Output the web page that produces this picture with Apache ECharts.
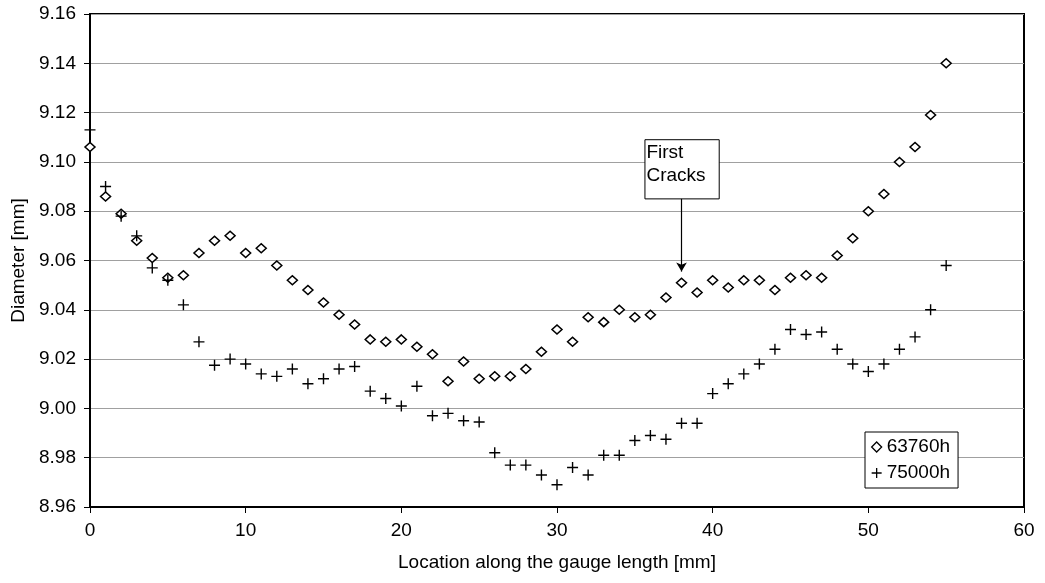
<!DOCTYPE html>
<html>
<head>
<meta charset="utf-8">
<script src="https://cdn.jsdelivr.net/npm/echarts@6/dist/echarts.min.js"></script>
<style>
  html, body { margin: 0; padding: 0; background: #fff; }
  #chart { width: 1045px; height: 583px; }
</style>
</head>
<body>
<div id="chart"></div>
<script>
// Measurement positions along the gauge length [mm]
const locations = [0, 1, 2, 3, 4, 5, 6, 7, 8, 9, 10, 11, 12, 13, 14, 15, 16, 17, 18, 19,
  20, 21, 22, 23, 24, 25, 26, 27, 28, 29, 30, 31, 32, 33, 34, 35, 36, 37, 38, 39,
  40, 41, 42, 43, 44, 45, 46, 47, 48, 49, 50, 51, 52, 53, 54, 55];

// Diameter [mm] after 63760 h
const diam63760 = [9.106, 9.086, 9.079, 9.068, 9.061, 9.053, 9.054, 9.063, 9.068, 9.070,
  9.063, 9.065, 9.058, 9.052, 9.048, 9.043, 9.038, 9.034, 9.028, 9.027,
  9.028, 9.025, 9.022, 9.011, 9.019, 9.012, 9.013, 9.013, 9.016, 9.023,
  9.032, 9.027, 9.037, 9.035, 9.040, 9.037, 9.038, 9.045, 9.051, 9.047,
  9.052, 9.049, 9.052, 9.052, 9.048, 9.053, 9.054, 9.053, 9.062, 9.069,
  9.080, 9.087, 9.100, 9.106, 9.119, 9.140];

// Diameter [mm] after 75000 h
const diam75000 = [9.113, 9.090, 9.078, 9.070, 9.057, 9.052, 9.042, 9.027, 9.0175, 9.020,
  9.018, 9.014, 9.013, 9.016, 9.010, 9.012, 9.016, 9.017, 9.007, 9.004,
  9.001, 9.009, 8.997, 8.998, 8.995, 8.9945, 8.982, 8.977, 8.977, 8.973,
  8.969, 8.976, 8.973, 8.981, 8.981, 8.987, 8.989, 8.9875, 8.994, 8.994,
  9.006, 9.010, 9.014, 9.018, 9.024, 9.032, 9.030, 9.031, 9.024, 9.018,
  9.015, 9.018, 9.024, 9.029, 9.040, 9.058];

const seriesNames = ['63760h', '75000h'];

// "First Cracks" note: location of the arrow, and the box extent in data units
const crackLocation = 38;
const crackArrowFrom = 9.085;
const crackArrowTo = 9.0555;
const crackBox = [[35.65, 9.109], [40.42, 9.085]];
const crackText = 'First\nCracks';

const FONT = '"Liberation Sans", Arial, sans-serif';
const PLUS = 'path://M0,5 L10,5 M5,0 L5,10';

function pairs(xs, ys) { return xs.map((x, i) => [x, ys[i]]); }

const chart = echarts.init(document.getElementById('chart'), null, { renderer: 'canvas' });

chart.setOption({
  animation: false,
  backgroundColor: '#fff',
  textStyle: { fontFamily: FONT, color: '#000' },
  grid: {
    left: 90, right: 21, top: 14, bottom: 76,
    show: true, borderColor: '#000', borderWidth: 2, backgroundColor: 'transparent'
  },
  xAxis: {
    type: 'value', min: 0, max: 60, interval: 10,
    name: 'Location along the gauge length [mm]',
    nameLocation: 'middle', nameGap: 46,
    nameTextStyle: { fontSize: 19, color: '#000', fontFamily: FONT },
    axisLine: { lineStyle: { color: '#000', width: 2 } },
    axisTick: { show: true, inside: false, length: 6, lineStyle: { color: '#000', width: 1 } },
    axisLabel: { fontSize: 19, color: '#000', margin: 14, fontFamily: FONT },
    splitLine: { show: false }
  },
  yAxis: {
    type: 'value', min: 8.96, max: 9.16, interval: 0.02,
    name: 'Diameter [mm]',
    nameLocation: 'middle', nameGap: 62, nameRotate: 90,
    nameTextStyle: { fontSize: 19, color: '#000', fontFamily: FONT },
    axisLine: { lineStyle: { color: '#000', width: 2 } },
    axisTick: { show: true, inside: false, length: 6, lineStyle: { color: '#000', width: 1 } },
    axisLabel: { fontSize: 19, color: '#000', margin: 14, fontFamily: FONT,
      formatter: v => v.toFixed(2) },
    splitLine: { show: true, lineStyle: { color: '#a0a0a0', width: 1 } }
  },
  legend: {
    orient: 'vertical',
    left: 865, top: 432,
    padding: [4, 8, 4, 6],
    itemGap: 4,
    itemWidth: 10, itemHeight: 10,
    itemTextGap: 5,
    borderColor: '#000', borderWidth: 1, backgroundColor: '#fff',
    textStyle: { fontSize: 19, color: '#000', fontFamily: FONT, lineHeight: 22 },
    data: [
      { name: seriesNames[0], icon: 'diamond', itemStyle: { color: '#fff', borderColor: '#000', borderWidth: 1.3 } },
      { name: seriesNames[1], icon: PLUS, itemStyle: { color: '#000', borderColor: '#000', borderWidth: 1.3 } }
    ]
  },
  series: [
    {
      name: seriesNames[0],
      type: 'scatter',
      symbol: 'diamond',
      symbolSize: [10, 9],
      itemStyle: { color: '#fff', borderColor: '#000', borderWidth: 1.5, opacity: 1 },
      data: pairs(locations, diam63760),
      z: 3,
      markArea: {
        silent: true,
        itemStyle: { color: '#fff', borderColor: '#000', borderWidth: 1, opacity: 1 },
        label: {
          show: true, position: 'insideTopLeft', distance: 2,
          formatter: crackText,
          fontSize: 19, lineHeight: 23, color: '#000', fontFamily: FONT
        },
        data: [[{ coord: crackBox[0] }, { coord: crackBox[1] }]]
      },
      markLine: {
        silent: true,
        symbol: ['none', 'arrow'],
        symbolSize: [8, 9],
        lineStyle: { color: '#000', width: 1.2, type: 'solid' },
        label: { show: false },
        data: [[{ coord: [crackLocation, crackArrowFrom] }, { coord: [crackLocation, crackArrowTo] }]]
      }
    },
    {
      name: seriesNames[1],
      type: 'scatter',
      symbol: PLUS,
      symbolSize: [11, 11],
      itemStyle: { color: '#000', borderColor: '#000', borderWidth: 1.4, opacity: 1 },
      data: pairs(locations, diam75000),
      z: 4
    }
  ]
});
</script>
</body>
</html>
